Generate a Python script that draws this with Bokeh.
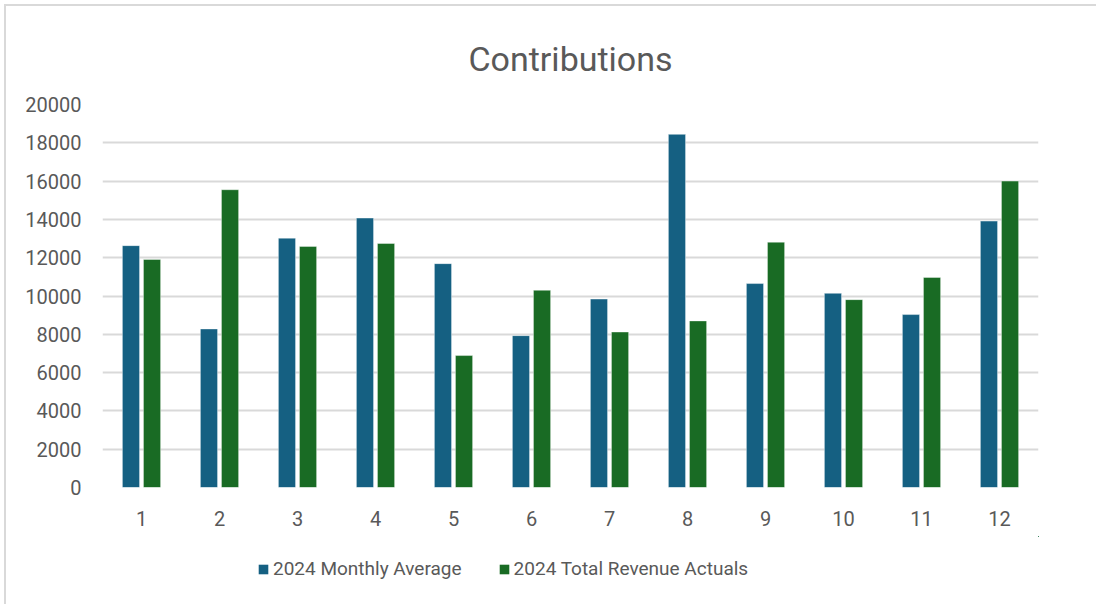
from bokeh.plotting import figure
from bokeh.layouts import column
from bokeh.models import ColumnDataSource, FixedTicker, Legend, LegendItem, Range1d, Title
from bokeh.transform import dodge
from bokeh.embed import file_html
from bokeh.resources import INLINE

months = [1, 2, 3, 4, 5, 6, 7, 8, 9, 10, 11, 12]
monthly_average = [12630, 8280, 13020, 14070, 11690, 7930, 9840, 18440, 10650, 10140, 9030, 13910]
total_revenue_actuals = [11910, 15550, 12590, 12740, 6890, 10300, 8120, 8700, 12810, 9810, 10970, 16000]
y_ticks = [0, 2000, 4000, 6000, 8000, 10000, 12000, 14000, 16000, 18000, 20000]

series_names = ["2024 Monthly Average", "2024 Total Revenue Actuals"]
colors = ["#156082", "#196B24"]
FONT = "Roboto"
TXT = "#595959"

src = ColumnDataSource(dict(month=months, avg=monthly_average, act=total_revenue_actuals))

p = figure(width=1090, height=530, output_backend="svg", toolbar_location=None,
           x_range=Range1d(0.5, 12.5), y_range=Range1d(0, 20000),
           min_border_left=96, min_border_right=58, min_border_top=98, min_border_bottom=49)

p.title = Title(text="Contributions", align="center", vertical_align="top", text_font=FONT,
                text_font_size="34px", text_color=TXT, text_font_style="normal",
                offset=0, standoff=48)

p.vbar(x=dodge("month", -0.135, range=p.x_range), top="avg", width=0.22, source=src,
       fill_color=colors[0], line_color="white", line_alpha=0.4, line_width=1)
p.vbar(x=dodge("month", 0.135, range=p.x_range), top="act", width=0.22, source=src,
       fill_color=colors[1], line_color="white", line_alpha=0.4, line_width=1)

p.xaxis.ticker = FixedTicker(ticks=months)
p.yaxis.ticker = FixedTicker(ticks=y_ticks)
for ax in (p.xaxis, p.yaxis):
    ax.axis_line_color = None
    ax.major_tick_line_color = None
    ax.minor_tick_line_color = None
    ax.major_label_text_font = FONT
    ax.major_label_text_font_size = "20px"
    ax.major_label_text_color = TXT
p.xaxis.major_label_standoff = 17
p.yaxis.major_label_standoff = 15

p.xgrid.grid_line_color = None
p.ygrid.grid_line_color = "#D9D9D9"
p.ygrid.grid_line_width = 2
p.outline_line_color = None

# legend strip below the chart (its bars lie outside its visible range)
lg = figure(width=1090, height=68, output_backend="svg", toolbar_location=None,
            x_range=Range1d(-10, -9), y_range=Range1d(-10, -9),
            min_border_left=0, min_border_right=0, min_border_top=0, min_border_bottom=0)
lg.axis.visible = False
lg.grid.visible = False
lg.outline_line_color = None
l1 = lg.vbar(x="month", top="avg", width=0.22, source=src, fill_color=colors[0], line_color=None)
l2 = lg.vbar(x="month", top="act", width=0.22, source=src, fill_color=colors[1], line_color=None)

legend = Legend(items=[LegendItem(label=series_names[0], renderers=[l1]),
                       LegendItem(label=series_names[1], renderers=[l2])],
                orientation="horizontal", location=(155, 24),
                label_text_font=FONT, label_text_font_size="19px", label_text_color=TXT,
                glyph_width=12, glyph_height=12, label_standoff=4, spacing=36,
                border_line_color=None, background_fill_alpha=0, margin=0, padding=0,
                label_height=20)
lg.add_layout(legend, "center")

layout = column(p, lg, spacing=0, margin=(4, 0, 0, 4),
                styles={"border-top": "2px solid #D9D9D9", "border-left": "2px solid #D9D9D9"})

open("out.html", "w").write(file_html(layout, INLINE))
